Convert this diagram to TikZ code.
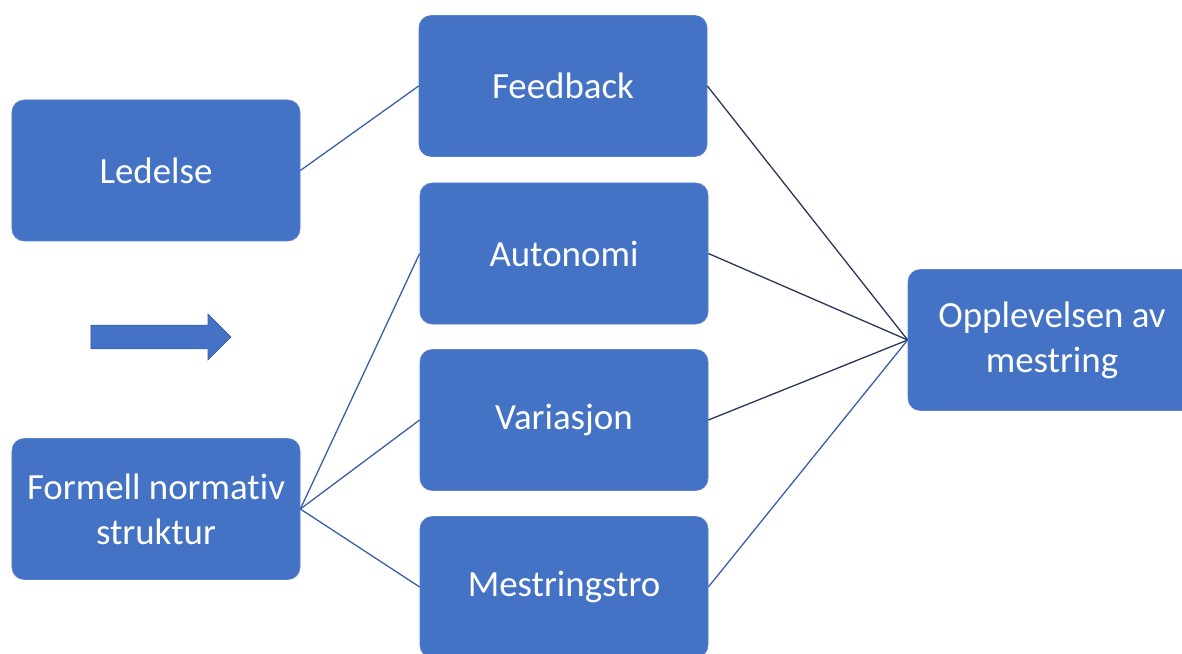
\documentclass[tikz,border=0pt]{standalone}
\usepackage{fontspec}
\setmainfont{Carlito}[Ligatures=NoCommon]
\usetikzlibrary{shapes.arrows}
\definecolor{boxFill}{RGB}{68,114,196}
\definecolor{boxEdge}{RGB}{86,128,204}
\definecolor{lnBlue}{RGB}{58,96,168}
\definecolor{lnDark}{RGB}{44,56,90}
\begin{document}
\begin{tikzpicture}[
        box/.style={rectangle, fill=boxFill, draw=boxEdge, thin, rounded corners=7pt, minimum width=5.76cm, minimum height=2.82cm, align=center, text=white, font=\fontsize{21}{25.6}\selectfont},
        lnb/.style={draw=lnBlue, line width=0.75pt},
        lnd/.style={draw=lnDark, line width=0.75pt},
        bigarr/.style={single arrow, fill=boxFill, draw=lnBlue, thin, minimum height=2.8cm, inner xsep=0pt, inner ysep=0.23cm, single arrow head extend=0.22cm, single arrow head indent=0pt},
    ]
    \clip (0,0) rectangle (23.64,-13.08);
    \node[box] at (3.12,-3.41) (ledelse) {Ledelse};
    \node[box] at (3.12,-10.18) (formell) {Formell normativ\\struktur};
    \node[box] at (11.26,-1.72) (feedback) {Feedback};
    \node[box] at (11.28,-5.07) (autonomi) {Autonomi};
    \node[box] at (11.28,-8.40) (variasjon) {Variasjon};
    \node[box] at (11.28,-11.74) (mestro) {Mestringstro};
    \node[box] at (21.04,-6.80) (mestring) {Opplevelsen av\\mestring};
    \node[bigarr] at (3.1,-6.74) (pil) {};
    \draw[lnb] (ledelse.east) -- (feedback.west);
    \draw[lnb] (formell.east) -- (autonomi.west);
    \draw[lnb] (formell.east) -- (variasjon.west);
    \draw[lnb] (formell.east) -- (mestro.west);
    \draw[lnd] (feedback.east) -- (mestring.west);
    \draw[lnd] (autonomi.east) -- (mestring.west);
    \draw[lnd] (variasjon.east) -- (mestring.west);
    \draw[lnb] (mestro.east) -- (mestring.west);
    \end{tikzpicture}
\end{document}
